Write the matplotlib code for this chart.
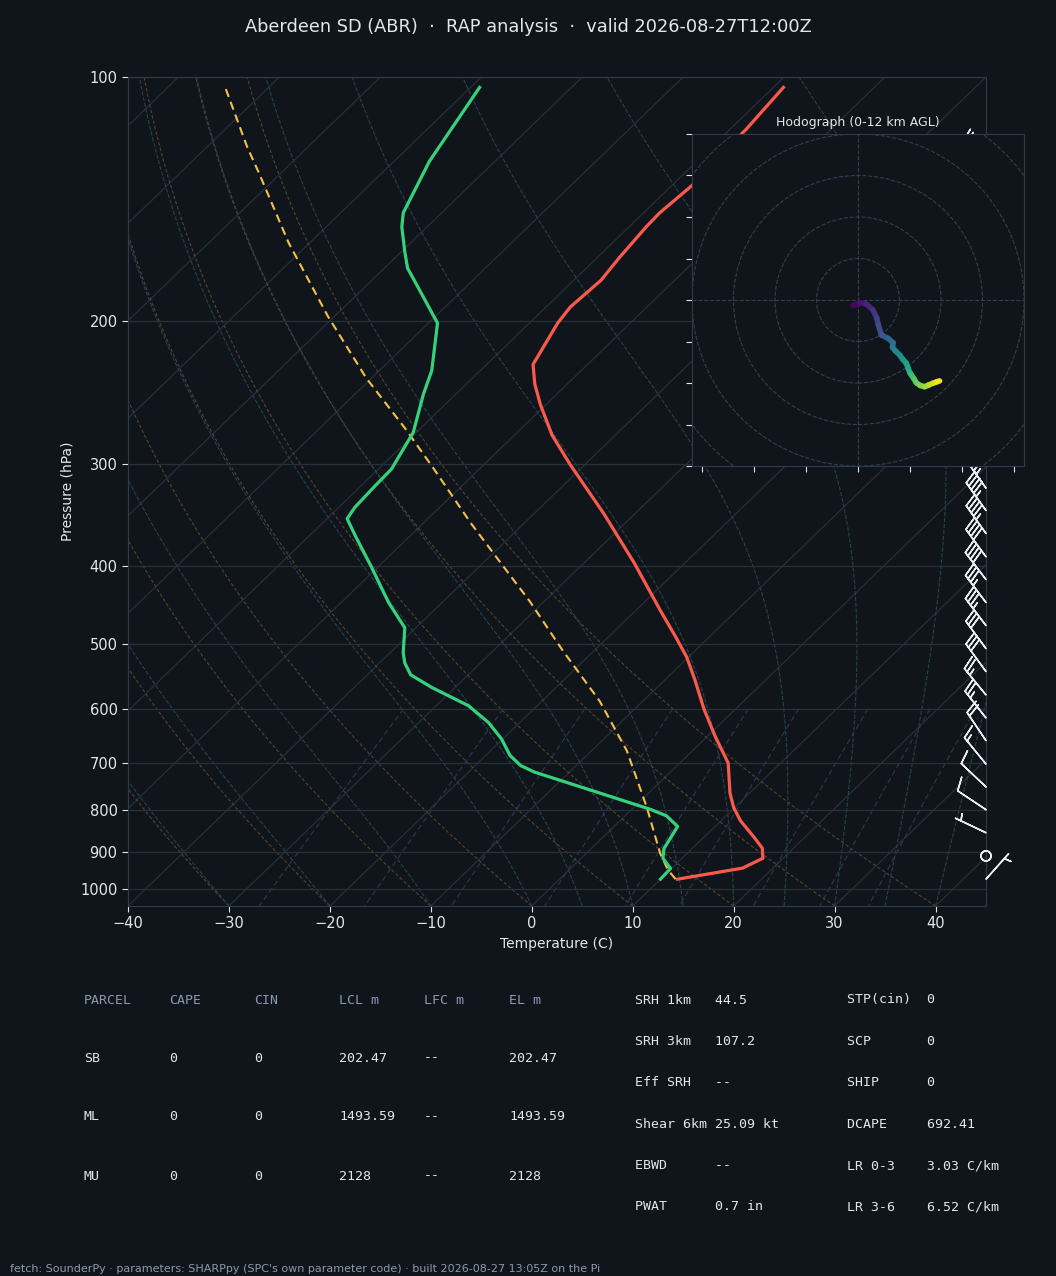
import numpy as np
import matplotlib
matplotlib.use("Agg")
import matplotlib.pyplot as plt
import matplotlib.transforms as mtransforms
from matplotlib.collections import LineCollection
from matplotlib.patches import Circle
from matplotlib.ticker import FixedLocator, NullLocator, FuncFormatter, MultipleLocator

BG = "#10151b"
GRID = "#28303a"
SPINE = "#2f3b4a"
TEXT = "#e3e6ea"
MUTED = "#8a9aae"

TITLE = "Aberdeen SD (ABR)  \u00b7  RAP analysis  \u00b7  valid 2026-08-27T12:00Z"
FOOTER = ("fetch: SounderPy \u00b7 parameters: SHARPpy (SPC's own parameter code) "
          "\u00b7 built 2026-08-27 13:05Z on the Pi")

# sounding (hPa, degC)
temp_p = [973, 943, 917, 891, 863, 824, 794, 763, 700, 648, 601, 552, 518, 488,
          453, 397, 345, 300, 276, 253, 239, 226, 201, 192, 178, 167, 153, 147,
          136, 126, 116, 103]
temp_c = [11.7, 17.0, 18.0, 16.9, 14.9, 11.9, 9.9, 8.1, 4.8, 0.7, -3.1, -7.1,
          -10.2, -13.5, -17.7, -25.0, -33.1, -41.5, -46.3, -50.6, -53.2, -55.4,
          -57.2, -57.6, -57.3, -57.8, -58.3, -58.4, -58.0, -58.3, -58.4, -59.0]

dwpt_p = [973, 944, 917, 892, 838, 813, 798, 764, 718, 705, 685, 654, 624, 595,
          565, 545, 527, 512, 477, 444, 401, 367, 350, 339, 319, 304, 274, 246,
          230, 201, 178, 172, 164, 153, 147, 127, 103]
dwpt_c = [10.0, 9.9, 8.1, 7.2, 6.3, 4.1, 1.8, -4.5, -13.5, -15.5, -17.6, -20.1,
          -23.1, -26.8, -32.3, -35.7, -37.5, -38.7, -41.1, -45.3, -50.7, -55.5,
          -58.0, -58.4, -58.6, -58.7, -60.3, -63.2, -64.8, -69.1, -75.8, -77.7,
          -79.7, -82.5, -83.8, -86.5, -89.1]

parcel_p = [973, 948, 904, 794, 676, 587, 509, 442, 416, 355, 303, 271, 235, 197,
            160, 131, 122, 103]
parcel_c = [11.5, 9.8, 7.3, 1.3, -6.5, -14.3, -23.1, -31.5, -35.3, -45.2, -54.7,
            -61.5, -70.5, -80.7, -92.1, -102.3, -106.0, -114.3]

# winds (kt) every 500 m AGL
wind_hgt_km = [0.0, 0.5, 1.0, 1.5, 2.0, 2.5, 3.0, 3.5, 4.0, 4.5, 5.0, 5.5, 6.0,
               6.5, 7.0, 7.5, 8.0, 8.5, 9.0, 9.5, 10.0, 10.5, 11.0, 11.5, 12.0,
               12.5, 13.0, 13.5, 14.0, 14.5, 15.0, 15.5]
wind_p = [973, 911, 853, 799, 749, 702, 657, 616, 577, 540, 506, 474, 444, 416,
          390, 365, 342, 321, 300, 282, 264, 247, 232, 217, 203, 190, 178, 167,
          157, 147, 138, 129]
wind_u = [-2.4, 0.8, 4.0, 7.2, 9.0, 9.8, 11.3, 14.5, 16.9, 16.6, 18.0, 20.1, 21.5,
          23.3, 24.2, 25.0, 25.7, 27.0, 28.1, 30.0, 32.1, 34.0, 36.1, 37.8, 39.3,
          38.0, 36.0, 33.0, 30.0, 27.0, 24.0, 20.0]
wind_v = [-2.7, -1.3, -1.9, -4.8, -8.5, -12.0, -16.9, -18.5, -20.6, -22.8, -24.5,
          -26.5, -28.5, -30.5, -33.0, -35.0, -36.1, -38.0, -39.9, -41.2, -41.8,
          -41.0, -40.1, -39.5, -39.0, -37.0, -35.0, -33.0, -30.0, -27.0, -25.0,
          -22.0]

# parameter tables
parcel_header = ["PARCEL", "CAPE", "CIN", "LCL m", "LFC m", "EL m"]
parcel_names = ["SB", "ML", "MU"]
parcel_cape = ["0", "0", "0"]
parcel_cin = ["0", "0", "0"]
parcel_lcl = ["202.47", "1493.59", "2128"]
parcel_lfc = ["--", "--", "--"]
parcel_el = ["202.47", "1493.59", "2128"]

kin_labels = ["SRH 1km", "SRH 3km", "Eff SRH", "Shear 6km", "EBWD", "PWAT"]
kin_values = ["44.5", "107.2", "--", "25.09 kt", "--", "0.7 in"]
thermo_labels = ["STP(cin)", "SCP", "SHIP", "DCAPE", "LR 0-3", "LR 3-6"]
thermo_values = ["0", "0", "0", "692.41", "3.03 C/km", "6.52 C/km"]


def moist_rate(p, t):
    es = 6.112 * np.exp(17.67 * (t - 273.15) / (t - 29.65))
    rs = 0.622 * es / (p - es)
    return (287.04 * t + 2.501e6 * rs) / (
        1005.7 + 2.501e6 ** 2 * rs * 0.622 / (287.04 * t * t)) / p


def moist_adiabat(t0_c, p):
    t = np.empty_like(p)
    t[0] = t0_c + 273.15
    for i in range(1, len(p)):
        dp = p[i] - p[i - 1]
        k1 = moist_rate(p[i - 1], t[i - 1])
        k2 = moist_rate(p[i - 1] + dp / 2, t[i - 1] + k1 * dp / 2)
        k3 = moist_rate(p[i - 1] + dp / 2, t[i - 1] + k2 * dp / 2)
        k4 = moist_rate(p[i], t[i - 1] + k3 * dp)
        t[i] = t[i - 1] + dp * (k1 + 2 * k2 + 2 * k3 + k4) / 6
    return t - 273.15


fig = plt.figure(figsize=(10.56, 12.76), dpi=100, facecolor=BG)
W, H = 1056, 1276

# Skew-T axes
ax = fig.add_axes([128 / W, 1 - 906 / H, 858 / W, 829 / H], facecolor=BG)
ax.set_yscale("log")
ax.set_ylim(1050, 100)
ax.set_xlim(-40, 45)
skew = (ax.transScale + ax.transLimits
        + mtransforms.Affine2D().skew_deg(45, 0) + ax.transAxes)

ax.yaxis.set_major_locator(FixedLocator(range(100, 1001, 100)))
ax.yaxis.set_major_formatter(FuncFormatter(lambda v, pos: f"{int(v)}"))
ax.yaxis.set_minor_locator(NullLocator())
ax.xaxis.set_major_locator(MultipleLocator(10))
ax.yaxis.grid(True, color=GRID, lw=0.9)
for s in ax.spines.values():
    s.set_color(SPINE)
ax.tick_params(colors=TEXT, labelsize=10.5, length=4)
ax.set_xlabel("Temperature (C)", color=TEXT, fontsize=10)
ax.set_ylabel("Pressure (hPa)", color=TEXT, fontsize=10)

# background lines
pp = np.linspace(1050, 100, 160)
for t in np.arange(-130, 50, 10):
    ax.plot([t, t], [1050, 100], transform=skew, color=GRID, lw=0.9, zorder=1)
for t0 in np.arange(-40, 46, 10):
    td = (t0 + 273.15) * (pp / 1050) ** 0.2857 - 273.15
    ax.plot(td, pp, transform=skew, color="#56462f", lw=0.8, ls="--",
            dashes=(3, 2), zorder=1)
for t0 in np.concatenate((np.arange(-40, 0, 10), np.arange(0, 46, 5))):
    ax.plot(moist_adiabat(t0, pp), pp, transform=skew, color="#27434d", lw=0.8,
            ls="--", zorder=1)
pm = np.linspace(600, 1050, 30)
for w in [0.0004, 0.001, 0.002, 0.004, 0.007, 0.01, 0.016, 0.024, 0.032]:
    e = pm * w / (0.622 + w)
    lg = np.log(e / 6.112)
    ax.plot(243.5 * lg / (17.67 - lg), pm, transform=skew, color="#2b3b50",
            lw=0.8, ls="--", dashes=(5, 3), zorder=1)

# profiles
ax.plot(parcel_c, parcel_p, transform=skew, color="#f4c04a", lw=1.5, ls="--",
        dashes=(4, 2.5), zorder=3)
ax.plot(temp_c, temp_p, transform=skew, color="#fa5a4b", lw=2.3, zorder=4)
ax.plot(dwpt_c, dwpt_p, transform=skew, color="#36d27b", lw=2.3, zorder=4)

bt = mtransforms.blended_transform_factory(ax.transAxes, ax.transData)
ax.barbs(np.ones(len(wind_p)), wind_p, wind_u, wind_v, transform=bt,
         clip_on=False, length=7, color="#e8ecf0", linewidth=1.1, zorder=5)

# hodograph inset
hx = fig.add_axes([692 / W, 1 - 466 / H, 332 / W, 332 / H], facecolor=BG)
hx.set_xlim(-80, 80)
hx.set_ylim(-80, 80)
for r in range(20, 140, 20):
    hx.add_patch(Circle((0, 0), r, fill=False, ls="--", ec="#34404f", lw=0.8))
hx.axhline(0, color="#34404f", ls="--", lw=0.8)
hx.axvline(0, color="#34404f", ls="--", lw=0.8)
n12 = wind_hgt_km.index(12.0) + 1
hu = np.array(wind_u[:n12])
hv = np.array(wind_v[:n12])
hz = np.array(wind_hgt_km[:n12])
pts = np.column_stack([hu, hv]).reshape(-1, 1, 2)
segs = np.concatenate([pts[:-1], pts[1:]], axis=1)
lc = LineCollection(segs, cmap="viridis", norm=plt.Normalize(0, 12), lw=4,
                    capstyle="round")
lc.set_array((hz[:-1] + hz[1:]) / 2)
hx.add_collection(lc)
hx.tick_params(labelleft=False, labelbottom=False, color=TEXT, length=4)
for s in hx.spines.values():
    s.set_color(SPINE)
hx.set_title("Hodograph (0-12 km AGL)", color=TEXT, fontsize=9, pad=6)

# title / tables / footer
fig.text(0.5, 1 - 27 / H, TITLE, ha="center", va="center", color=TEXT, fontsize=12.8)

mono = dict(family="DejaVu Sans Mono", fontsize=9.5, va="center")
col_x = [84, 169, 254, 339, 424, 509]
for x, h in zip(col_x, parcel_header):
    fig.text(x / W, 1 - 1000 / H, h, color=MUTED, **mono)
cols = [parcel_names, parcel_cape, parcel_cin, parcel_lcl, parcel_lfc, parcel_el]
for r, y in enumerate([1058, 1117, 1176]):
    for x, c in zip(col_x, cols):
        fig.text(x / W, 1 - y / H, c[r], color=TEXT, **mono)

for i in range(len(kin_labels)):
    y = 1 - (1000 + 41.4 * i) / H
    fig.text(635 / W, y, f"{kin_labels[i]:<10}{kin_values[i]}", color=TEXT, **mono)
    fig.text(847 / W, y, f"{thermo_labels[i]:<10}{thermo_values[i]}", color=TEXT, **mono)

fig.text(10 / W, 1 - 1269 / H, FOOTER, ha="left", va="center", color=MUTED, fontsize=8)

fig.savefig("out.png", dpi=100, facecolor=BG)
